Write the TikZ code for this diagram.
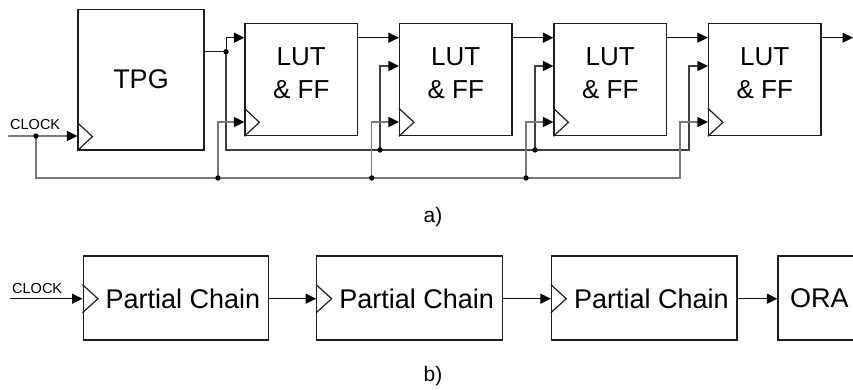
\documentclass[tikz,border=0pt]{standalone}
\usepackage{fontspec}
\setmainfont{Liberation Sans}
\usetikzlibrary{arrows.meta,calc}

\begin{document}
\begin{tikzpicture}[x=1pt,y=-1pt,
  box/.style={draw=black!88, line width=1.2pt, rectangle, inner sep=0pt},
  lutbox/.style={box, minimum width=112.5pt, minimum height=112pt},
  chainbox/.style={box, minimum width=185.5pt, minimum height=84pt},
  bigtext/.style={font=\fontsize{26}{33}\selectfont, align=center, inner sep=0pt},
  smalltext/.style={font=\fontsize{14.5}{16}\selectfont, inner sep=0pt},
  captext/.style={font=\fontsize{21}{23}\selectfont, inner sep=0pt},
  tip/.style={-{Triangle[length=10.5pt,width=10pt,color=black]}},
  wire/.style={draw=black!92, line width=1pt},
  outbus/.style={draw=black!75, line width=1.2pt},
  clkbus/.style={draw=black!52, line width=1.2pt},
  dot/.style={fill=black},
]
\clip (0,0) rectangle (853,390);

% ---------- a) ----------
% row heights of the inputs and buses
\coordinate (rowA) at (0,37.7);
\coordinate (rowB) at (0,66);
\coordinate (rowC) at (0,122);
\coordinate (rowT) at (0,51.7);
\coordinate (rowK) at (0,136);

\node[box, minimum width=126pt, minimum height=140.5pt] (tpg) at (141,79.75) {};
\node[bigtext, font=\fontsize{27}{33}\selectfont] (tpgt) at (141,79) {TPG};

\node[lutbox] (lut1) at (301.25,79.7) {};
\node[lutbox] (lut2) at (455.75,79.7) {};
\node[lutbox] (lut3) at (610.25,79.7) {};
\node[lutbox] (lut4) at (764.75,79.7) {};
\foreach \i in {1,...,4}{
  \node[bigtext] (lut\i t) at ($(lut\i.center)+(0,-7)$) {LUT\\\& FF};
}

% clock triangles
\foreach \n in {tpg,lut1,lut2,lut3,lut4}{
  \draw[box] ($(\n.south west)+(0,-28)$) -- ++(15,14) -- ++(-15,14);
}

% junction points
\coordinate (d0) at (226,51.7);
\coordinate (o2) at (380,150);
\coordinate (o3) at (535,150);
\coordinate (o4) at (689,150);
\coordinate (ck0) at (36,136);
\coordinate (ck1) at (218,178);
\coordinate (ck2) at (371.7,178);
\coordinate (ck3) at (526,178);
\coordinate (ck4) at (680,178);
\coordinate (clkin) at (8,136);
\coordinate (aout) at (853,37.7);

% data path
\draw[wire] (tpg.east |- rowT) -- (d0);
\draw[wire,tip] (d0) |- (lut1.west |- rowA);
\draw[wire,tip] (lut1.east |- rowA) -- (lut2.west |- rowA);
\draw[wire,tip] (lut2.east |- rowA) -- (lut3.west |- rowA);
\draw[wire,tip] (lut3.east |- rowA) -- (lut4.west |- rowA);
\draw[wire,tip] (lut4.east |- rowA) -- (aout);

% TPG output bus
\draw[outbus,tip] (d0) |- (o4) |- (lut4.west |- rowB);
\draw[outbus,tip] (o2) |- (lut2.west |- rowB);
\draw[outbus,tip] (o3) |- (lut3.west |- rowB);

% clock bus
\node[smalltext, anchor=south west] (clka) at (10,130) {CLOCK};
\draw[clkbus,tip] (clkin) -- (tpg.west |- rowK);
\draw[clkbus,tip] (ck0) |- (ck4) |- (lut4.west |- rowC);
\draw[clkbus,tip] (ck1) |- (lut1.west |- rowC);
\draw[clkbus,tip] (ck2) |- (lut2.west |- rowC);
\draw[clkbus,tip] (ck3) |- (lut3.west |- rowC);

\foreach \p in {d0,o2,o3,ck0,ck1,ck2,ck3}{
  \fill[dot] (\p) circle (2.7pt);
}

\node[captext] (capa) at (433,217) {a)};

% ---------- b) ----------
\node[chainbox] (pc1) at (175.85,298) {};
\node[chainbox] (pc2) at (409.5,298) {};
\node[chainbox] (pc3) at (644.2,298) {};
\node[box, minimum width=100pt, minimum height=84pt] (ora) at (828,298) {};

\foreach \n in {pc1,pc2,pc3}{
  \node[bigtext, font=\fontsize{27}{30}\selectfont, anchor=west] (\n t) at ($(\n.west)+(23,0.7)$) {Partial Chain};
  \draw[box] ($(\n.west)+(0,-13.3)$) -- ++(15.5,14) -- ++(-15.5,14);
}
\node[bigtext, font=\fontsize{27}{30}\selectfont, anchor=west] (orat) at ($(ora.west)+(12.5,0.7)$) {ORA};

\coordinate (clkinb) at (10,298.7);
\node[smalltext, anchor=south west] (clkb) at (12,294) {CLOCK};
\draw[wire,tip] (clkinb) -- (pc1.west |- clkinb);
\draw[wire,tip] (pc1.east |- clkinb) -- (pc2.west |- clkinb);
\draw[wire,tip] (pc2.east |- clkinb) -- (pc3.west |- clkinb);
\draw[wire,tip] (pc3.east |- clkinb) -- (ora.west |- clkinb);

\node[captext] (capb) at (433,376) {b)};
\end{tikzpicture}
\end{document}
